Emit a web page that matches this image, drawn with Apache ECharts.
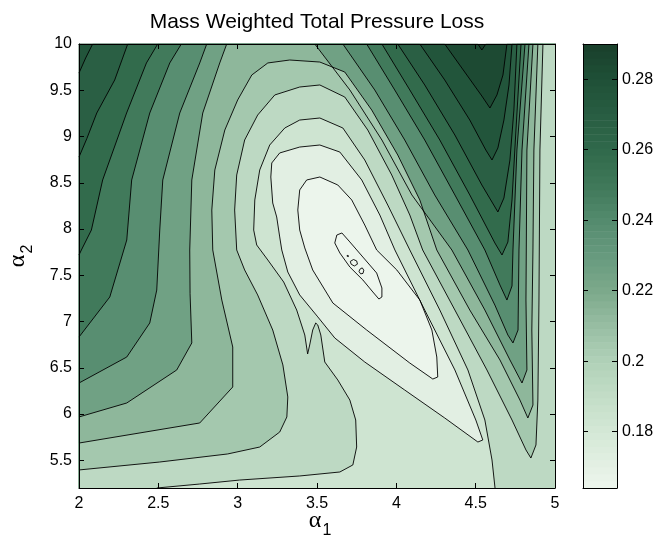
<!DOCTYPE html>
<html>
<head>
<meta charset="utf-8">
<script src="https://cdn.jsdelivr.net/npm/echarts@6/dist/echarts.min.js"></script>
<style>
html,body{margin:0;padding:0;background:#fff;}
#chart{width:659px;height:543px;}
</style>
</head>
<body>
<div id="chart"></div>
<script>
// ---- axes ----
const xRange = [2, 5];
const yRange = [5.2, 10];
const xTicks = [2, 2.5, 3, 3.5, 4, 4.5, 5];
const yTicks = [5.5, 6, 6.5, 7, 7.5, 8, 8.5, 9, 9.5, 10];
const cbTicks = [0.18, 0.2, 0.22, 0.24, 0.26, 0.28];
const zRange = [0.164, 0.29];

// ---- contour levels (low to high) ----
const levelValues = [0.1655, 0.171, 0.1835, 0.193, 0.205, 0.2135, 0.2255,
                     0.238, 0.249, 0.259, 0.268, 0.2765, 0.2835, 0.2895];

// ---- colormap ----
const cmapValues = [0.164, 0.17, 0.18, 0.19, 0.20, 0.21, 0.22, 0.23, 0.24, 0.25, 0.26, 0.27, 0.28, 0.29];
const cmapColors = ['#eef6ee', '#e4f0e4', '#d4e8d6', '#c3ddc7', '#b0d1b8', '#98bea3', '#7ca98b',
                    '#679a7e', '#548b6e', '#3f7859', '#30694b', '#285d42', '#1f5037', '#1a3f2b'];

// ---- contour lines, [alpha1, alpha2]; higher values lie to the left of the walking direction ----
const cN  = [[4.514,10],[4.539,9.935],[4.564,10]];
const cA0 = [[4.305,10],[4.431,9.697],[4.539,9.438],[4.59,9.308],[4.634,9.449],[4.672,9.665],[4.697,10]];
const cA1L = [[2,9.686],[2.042,9.849],[2.086,10]];
const cA1 = [[4.148,10],[4.305,9.611],[4.463,9.178],[4.564,8.854],[4.603,8.746],[4.64,8.876],[4.678,9.178],[4.71,9.557],[4.729,10]];
const cA2L = [[2,8.778],[2.05,8.98],[2.112,9.254],[2.225,9.611],[2.307,10]];
const cA2 = [[4.009,10],[4.179,9.557],[4.369,9.016],[4.539,8.476],[4.64,8.184],[4.678,8.335],[4.716,8.746],[4.741,9.286],[4.76,10]];
const cA3L = [[2,7.719],[2.015,7.773],[2.078,7.989],[2.149,8.53],[2.30,9.254],[2.425,9.795],[2.496,10]];
const cA3 = [[3.909,10],[4.085,9.503],[4.274,8.962],[4.463,8.368],[4.621,7.849],[4.666,7.719],[4.703,7.859],[4.729,8.314],[4.754,9.07],[4.786,10]];
const cA4L = [[2,6.832],[2.194,7.265],[2.301,7.881],[2.332,8.53],[2.446,9.254],[2.572,9.795],[2.645,10]];
const cA4 = [[3.813,10],[3.99,9.503],[4.179,8.962],[4.369,8.368],[4.558,7.773],[4.653,7.395],[4.697,7.232],[4.729,7.384],[4.735,7.773],[4.76,8.854],[4.811,10]];
const cA5L = [[2,6.335],[2.301,6.616],[2.446,6.984],[2.49,7.34],[2.509,7.989],[2.528,8.53],[2.635,9.254],[2.761,9.795],[2.805,10]];
const cA5 = [[3.663,10],[3.864,9.503],[4.053,8.962],[4.242,8.368],[4.451,7.773],[4.621,7.178],[4.703,6.854],[4.735,6.768],[4.767,6.908],[4.773,7.773],[4.792,8.854],[4.836,10]];
const cA6L = [[2,5.968],[2.301,6.119],[2.616,6.476],[2.711,6.768],[2.70,7.30],[2.698,7.773],[2.711,8.53],[2.78,9.254],[2.887,9.795],[2.931,10]];
const cA6 = [[3.486,10],[3.707,9.503],[3.909,8.962],[4.098,8.368],[4.35,7.773],[4.558,7.124],[4.716,6.584],[4.792,6.335],[4.823,6.476],[4.817,7.232],[4.823,8.854],[4.861,10]];
const cB7 = [[2,5.686],[2.761,5.903],[2.969,6.292],[2.969,6.724],[2.90,7.232],[2.843,7.773],[2.837,8.205],[2.856,8.638],[2.919,9.07],[3.0,9.395],[3.089,9.665],[3.19,9.795],[3.328,9.827],[3.518,9.805],
             [3.675,9.697],[3.845,9.286],[4.009,8.8],[4.148,8.314],[4.255,7.773],[4.463,7.124],[4.653,6.584],[4.779,6.151],[4.829,5.957],[4.861,6.097],[4.854,6.908],[4.861,7.773],[4.867,8.854],[4.892,10]];
const cB8 = [[2,5.395],[2.509,5.481],[2.937,5.568],[3.139,5.643],[3.265,5.805],[3.31,5.968],[3.316,6.184],[3.285,6.53],[3.221,6.908],[3.126,7.287],[3.044,7.557],[2.994,7.773],[2.981,8.205],[2.994,8.584],[3.044,8.962],[3.126,9.232],[3.234,9.449],[3.391,9.535],[3.518,9.557],
             [3.675,9.427],[3.82,9.07],[3.971,8.584],[4.085,8.151],[4.166,7.773],[4.369,7.124],[4.571,6.476],[4.729,5.935],[4.817,5.611],[4.848,5.524],[4.88,5.665],[4.892,6.151],[4.899,7.232],[4.905,8.854],[4.924,10]];
const cB9 = [[2.49,5.2],[2.761,5.243],[3.013,5.286],[3.391,5.33],[3.644,5.373],[3.726,5.449],[3.75,5.643],[3.744,5.935],[3.707,6.151],[3.631,6.368],[3.549,6.562],[3.524,6.854],[3.505,6.962],[3.492,6.984],[3.473,6.908],[3.454,6.746],[3.441,6.649],[3.423,6.854],[3.372,7.124],[3.29,7.427],[3.19,7.665],[3.12,7.827],[3.101,7.989],[3.108,8.314],[3.139,8.638],[3.202,8.908],[3.297,9.092],[3.391,9.178],[3.518,9.2],
             [3.663,9.092],[3.801,8.746],[3.946,8.259],[4.085,7.773],[4.274,7.124],[4.451,6.476],[4.558,5.935],[4.603,5.503],[4.622,5.2]];
const cB10 = [[3.518,8.908],[3.644,8.832],[3.782,8.53],[3.896,8.151],[3.991,7.773],[4.179,7.124],[4.369,6.476],[4.501,5.935],[4.545,5.719],[4.514,5.697],[4.305,5.957],[4.053,6.259],[3.801,6.562],[3.612,6.822],[3.505,7.05],[3.391,7.287],[3.316,7.535],[3.278,7.773],[3.265,7.914],[3.246,8.13],[3.221,8.281],[3.209,8.562],[3.215,8.714],[3.265,8.822],[3.391,8.886]];
const cB11 = [[3.518,8.562],[3.631,8.476],[3.719,8.314],[3.801,8.043],[3.876,7.773],[4.003,7.557],[4.148,7.232],[4.224,6.908],[4.255,6.616],[4.261,6.4],[4.23,6.378],[4.085,6.551],[3.813,6.908],[3.6,7.2],[3.473,7.557],[3.423,7.795],[3.391,7.989],[3.379,8.205],[3.391,8.422],[3.435,8.53]];
const cB12 = [[3.625,7.935],[3.657,7.957],[3.707,7.86],[3.789,7.697],[3.876,7.524],[3.909,7.362],[3.909,7.265],[3.89,7.243],[3.852,7.319],[3.789,7.449],[3.707,7.589],[3.644,7.741],[3.612,7.849]];
const cIsleA = [[3.71,7.65],[3.73,7.67],[3.75,7.655],[3.755,7.62],[3.735,7.6],[3.715,7.62]];
const cIsleB = [[3.77,7.565],[3.785,7.58],[3.795,7.555],[3.79,7.52],[3.775,7.515],[3.765,7.54]];
const cIsleC = [[3.69,7.715],[3.698,7.712],[3.698,7.702],[3.69,7.705]];

// sublevel regions {z <= level}: open pieces are joined clockwise along the frame
const regionDefs = [
  { level: 13, pieces: [cN] },
  { level: 12, pieces: [cA0] },
  { level: 11, pieces: [cA1L, cA1] },
  { level: 10, pieces: [cA2L, cA2] },
  { level: 9,  pieces: [cA3L, cA3] },
  { level: 8,  pieces: [cA4L, cA4] },
  { level: 7,  pieces: [cA5L, cA5] },
  { level: 6,  pieces: [cA6L, cA6] },
  { level: 5,  pieces: [cB7] },
  { level: 4,  pieces: [cB8] },
  { level: 3,  pieces: [cB9] },
  { level: 2,  loop: cB10 },
  { level: 1,  loop: cB11 },
  { level: 0,  loop: cB12 }
];
const openLines = [cN, cA0, cA1L, cA1, cA2L, cA2, cA3L, cA3, cA4L, cA4, cA5L, cA5, cA6L, cA6, cB7, cB8, cB9];
const closedLines = [cB10, cB11, cB12, cIsleA, cIsleB, cIsleC];

// ---- helpers ----
function hexToRgb(h) { return [1, 3, 5].map(i => parseInt(h.substr(i, 2), 16)); }
function cmap(v) {
  if (v <= cmapValues[0]) return cmapColors[0];
  for (let i = 1; i < cmapValues.length; i++) {
    if (v <= cmapValues[i]) {
      const t = (v - cmapValues[i - 1]) / (cmapValues[i] - cmapValues[i - 1]);
      const a = hexToRgb(cmapColors[i - 1]), b = hexToRgb(cmapColors[i]);
      return 'rgb(' + a.map((c, k) => Math.round(c + (b[k] - c) * t)).join(',') + ')';
    }
  }
  return cmapColors[cmapColors.length - 1];
}

const [X0, X1] = xRange, [Y0, Y1] = yRange;
const FW = X1 - X0, FH = Y1 - Y0, FT = 2 * (FW + FH);
function perim(p) {
  const e = 1e-9, x = p[0], y = p[1];
  if (Math.abs(x - X0) < e) return y - Y0;
  if (Math.abs(y - Y1) < e) return FH + (x - X0);
  if (Math.abs(x - X1) < e) return FH + FW + (Y1 - y);
  return 2 * FH + FW + (X1 - x);
}
const frameCorners = [[[X0, Y1], FH], [[X1, Y1], FH + FW], [[X1, Y0], 2 * FH + FW], [[X0, Y0], FT]];
function frameWalk(a, b) {
  const sa = perim(a); let sb = perim(b);
  if (sb <= sa) sb += FT;
  const out = [];
  frameCorners.forEach(([c, s]) => {
    let sc = s;
    while (sc <= sa) sc += FT;
    while (sc - FT > sa) sc -= FT;
    if (sc < sb) out.push([sc, c]);
  });
  return out.sort((p, q) => p[0] - q[0]).map(p => p[1]);
}
function buildRegion(def) {
  if (def.loop) return def.loop.slice();
  const pts = [];
  def.pieces.forEach((piece, i) => {
    const next = def.pieces[(i + 1) % def.pieces.length];
    pts.push(...piece, ...frameWalk(piece[piece.length - 1], next[0]));
  });
  return pts;
}

// fills: background = top band, then nested sublevel regions from high to low
const fills = [{ pts: [[X0, Y0], [X0, Y1], [X1, Y1], [X1, Y0]], color: cmap(levelValues[levelValues.length - 1]) }];
regionDefs.forEach(def => {
  const below = def.level === 0 ? zRange[0] : levelValues[def.level - 1];
  fills.push({ pts: buildRegion(def), color: cmap(below) });
});
const strokes = openLines.map(l => l).concat(closedLines.map(l => l.concat([l[0]])));

// colorbar steps (64 entries)
const cbSteps = [];
for (let i = 0; i < 64; i++) {
  const lo = zRange[0] + (zRange[1] - zRange[0]) * i / 64;
  const hi = zRange[0] + (zRange[1] - zRange[0]) * (i + 1) / 64;
  cbSteps.push([lo, hi, cmap((lo + hi) / 2)]);
}

const FONT = 'Liberation Sans, Arial, Helvetica, sans-serif';
const labelStyle = { color: '#000', fontSize: 16, fontFamily: FONT };
const tickStyle = { show: true, inside: true, length: 5, lineStyle: { color: '#000', width: 1 } };
const lineStyle = { show: true, onZero: false, lineStyle: { color: '#000', width: 1 } };

const chart = echarts.init(document.getElementById('chart'), null, { renderer: 'canvas' });
chart.setOption({
  animation: false,
  backgroundColor: '#fff',
  grid: [
    { left: 79, right: 104, top: 44, bottom: 55 },
    { left: 583, width: 34, top: 44, bottom: 55 }
  ],
  xAxis: [
    { gridIndex: 0, type: 'value', min: X0, max: X1, interval: 0.5, position: 'bottom', z: 10,
      axisLine: lineStyle, axisTick: tickStyle, splitLine: { show: false },
      axisLabel: Object.assign({ margin: 8, customValues: xTicks }, labelStyle) },
    { gridIndex: 0, type: 'value', min: X0, max: X1, interval: 0.5, position: 'top', z: 10,
      axisLine: lineStyle, axisTick: tickStyle, splitLine: { show: false }, axisLabel: { show: false } },
    { gridIndex: 1, type: 'value', min: 0, max: 1, position: 'bottom', z: 10,
      axisLine: lineStyle, axisTick: { show: false }, splitLine: { show: false }, axisLabel: { show: false } },
    { gridIndex: 1, type: 'value', min: 0, max: 1, position: 'top', z: 10,
      axisLine: lineStyle, axisTick: { show: false }, splitLine: { show: false }, axisLabel: { show: false } }
  ],
  yAxis: [
    { gridIndex: 0, type: 'value', min: Y0, max: Y1, position: 'left', z: 10,
      axisLine: lineStyle, axisTick: Object.assign({ customValues: yTicks }, tickStyle), splitLine: { show: false },
      axisLabel: Object.assign({ margin: 7, customValues: yTicks }, labelStyle) },
    { gridIndex: 0, type: 'value', min: Y0, max: Y1, position: 'right', z: 10,
      axisLine: lineStyle, axisTick: Object.assign({ customValues: yTicks }, tickStyle), splitLine: { show: false },
      axisLabel: { show: false } },
    { gridIndex: 1, type: 'value', min: zRange[0], max: zRange[1], position: 'right', z: 10,
      axisLine: lineStyle, axisTick: Object.assign({ customValues: cbTicks }, tickStyle), splitLine: { show: false },
      axisLabel: Object.assign({ margin: 5, customValues: cbTicks }, labelStyle) },
    { gridIndex: 1, type: 'value', min: zRange[0], max: zRange[1], position: 'left', z: 10,
      axisLine: lineStyle, axisTick: Object.assign({ customValues: cbTicks }, tickStyle), splitLine: { show: false },
      axisLabel: { show: false } }
  ],
  graphic: [
    { type: 'text', x: 317, y: 22, z: 20,
      style: { text: 'Mass Weighted Total Pressure Loss', fill: '#000', font: '21px ' + FONT, textAlign: 'center', textVerticalAlign: 'middle' } },
    { type: 'text', x: 315, y: 521, z: 20,
      style: { text: 'α', fill: '#000', font: '24px Liberation Serif, DejaVu Serif, serif', textAlign: 'center', textVerticalAlign: 'middle' } },
    { type: 'text', x: 327, y: 531, z: 20,
      style: { text: '1', fill: '#000', font: '16px ' + FONT, textAlign: 'center', textVerticalAlign: 'middle' } },
    { type: 'text', x: 18, y: 261, rotation: Math.PI / 2, z: 20,
      style: { text: 'α', fill: '#000', font: '24px Liberation Serif, DejaVu Serif, serif', textAlign: 'center', textVerticalAlign: 'middle' } },
    { type: 'text', x: 28, y: 249, rotation: Math.PI / 2, z: 20,
      style: { text: '2', fill: '#000', font: '16px ' + FONT, textAlign: 'center', textVerticalAlign: 'middle' } }
  ],
  series: [
    { type: 'custom', xAxisIndex: 0, yAxisIndex: 0, silent: true, z: 2,
      data: fills.map(() => [X0, Y0]),
      renderItem: (params, api) => {
        const f = fills[params.dataIndex];
        return { type: 'polygon', z2: params.dataIndex,
          shape: { points: f.pts.map(p => api.coord(p)) },
          style: { fill: f.color, stroke: f.color, lineWidth: 0.3 } };
      } },
    { type: 'custom', xAxisIndex: 0, yAxisIndex: 0, silent: true, z: 3,
      data: strokes.map(() => [X0, Y0]),
      renderItem: (params, api) => {
        const s = strokes[params.dataIndex];
        return { type: 'polyline', shape: { points: s.map(p => api.coord(p)) },
          style: { fill: null, stroke: '#000', lineWidth: 0.9 } };
      } },
    { type: 'custom', xAxisIndex: 2, yAxisIndex: 2, silent: true, z: 2,
      data: cbSteps.map(() => [0, zRange[0]]),
      renderItem: (params, api) => {
        const s = cbSteps[params.dataIndex];
        const p0 = api.coord([0, s[1]]), p1 = api.coord([1, s[0]]);
        return { type: 'rect', shape: { x: p0[0], y: p0[1], width: p1[0] - p0[0], height: p1[1] - p0[1] + 0.5 },
          style: { fill: s[2] } };
      } }
  ]
});
</script>
</body>
</html>
